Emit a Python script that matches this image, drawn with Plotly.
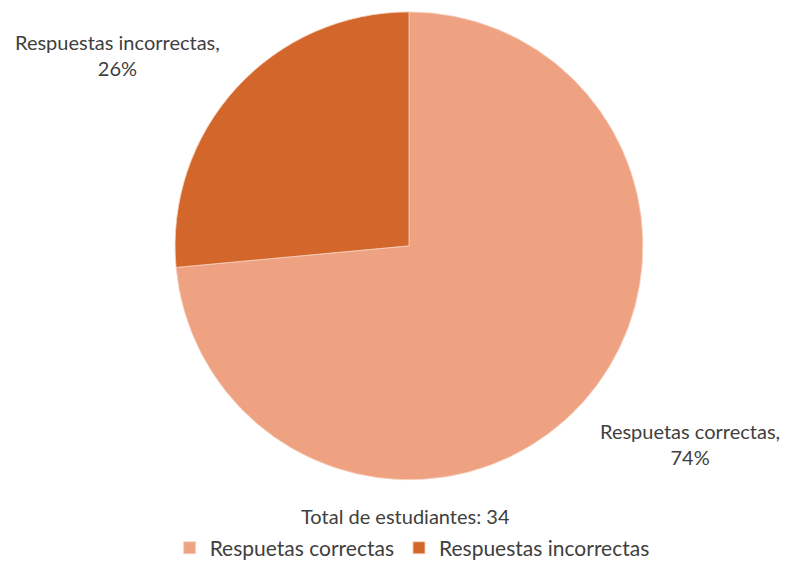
import plotly.graph_objects as go

# Answers from 34 students
labels = ["Respuetas correctas", "Respuestas incorrectas"]
counts = [25, 9]
colors = ["#EFA282", "#D3662A"]
slice_labels = ["Respuetas correctas,<br>74%", "Respuestas incorrectas,<br>26%"]
total_text = "Total de estudiantes: 34"

W, H = 785, 569
family = "Lato, Open Sans, sans-serif"
ink = "#404040"

fig = go.Figure(
    go.Pie(
        labels=labels,
        values=counts,
        sort=False,
        direction="clockwise",
        rotation=0,
        textinfo="none",
        hoverinfo="label+percent",
        marker=dict(colors=colors, line=dict(color="#F6D3C2", width=0.8)),
        domain=dict(x=[173 / W, 645 / W], y=[1 - 484 / H, 1 - 12 / H]),
    )
)

label_font = dict(family=family, size=20, color=ink)
fig.add_annotation(x=117 / W, y=1 - 55 / H, xref="paper", yref="paper",
                   xanchor="center", yanchor="middle",
                   text=slice_labels[1], showarrow=False, font=label_font, align="center")
fig.add_annotation(x=690 / W, y=1 - 448 / H, xref="paper", yref="paper",
                   xanchor="center", yanchor="middle",
                   text=slice_labels[0], showarrow=False, font=label_font, align="center")
fig.add_annotation(x=405 / W, y=1 - 521 / H, xref="paper", yref="paper",
                   xanchor="center", yanchor="middle",
                   text=total_text, showarrow=False,
                   font=dict(family=family, size=20, color=ink))

fig.update_layout(
    width=W, height=H,
    margin=dict(l=0, r=0, t=0, b=0),
    paper_bgcolor="white",
    legend=dict(orientation="h", x=0.525, xanchor="center", y=1 - 553 / H,
                yanchor="middle", font=dict(family=family, size=21, color=ink),
                itemwidth=30, traceorder="normal"),
)

fig.write_html("out.html")
